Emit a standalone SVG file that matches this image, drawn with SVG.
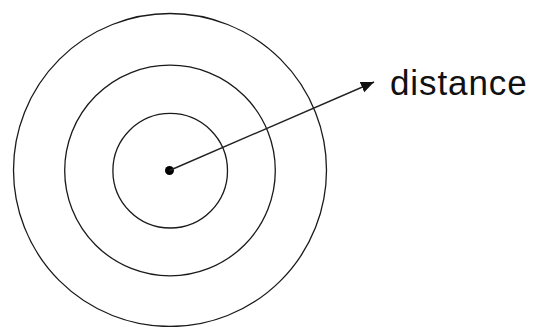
<svg xmlns="http://www.w3.org/2000/svg" width="533" height="327" viewBox="0 0 533 327">
<defs>
<style>
.ring{fill:none;stroke:#1a1a1a;stroke-width:1.3}
.lbl{font-family:"Liberation Sans",Arial,sans-serif;font-size:35px;fill:#111;letter-spacing:0.9px}
</style>
<marker id="ah" markerUnits="userSpaceOnUse" markerWidth="14" markerHeight="12" refX="13" refY="6" orient="auto">
<path d="M0,0.5 L13,6 L0,11.5 Z" fill="#111"/>
</marker>
</defs>
<rect width="533" height="327" fill="#fff"/>
<g id="rings">
<circle id="outer" class="ring" cx="170" cy="170" r="156.5"/>
<circle id="middle" class="ring" cx="170" cy="170.5" r="105.3"/>
<circle id="inner" class="ring" cx="170.2" cy="170.7" r="57.3"/>
<circle id="center" cx="169.5" cy="170.5" r="4.5" fill="#000"/>
</g>
<g id="connectors">
<line x1="169.5" y1="170.5" x2="374" y2="82" stroke="#222" stroke-width="1.4" marker-end="url(#ah)"/>
</g>
<g id="label">
<text class="lbl" x="390" y="94.5">distance</text>
</g>
</svg>
